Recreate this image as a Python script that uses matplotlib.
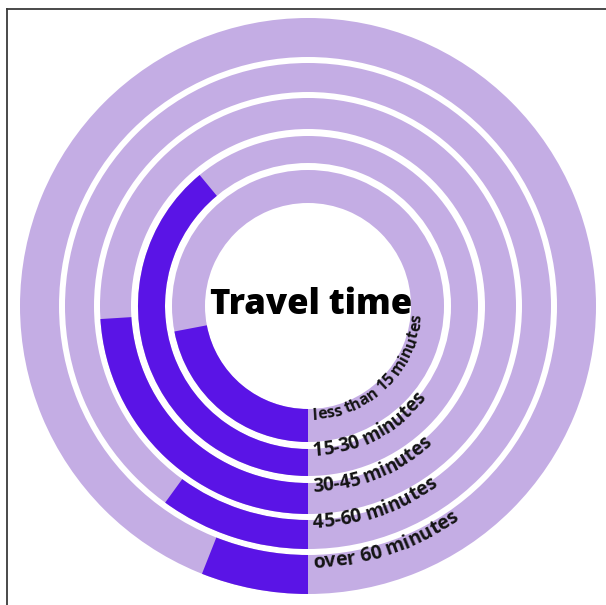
import matplotlib
matplotlib.use('Agg')
import matplotlib.pyplot as plt
import numpy as np
from matplotlib import font_manager
from matplotlib.ft2font import FT2Font
from matplotlib.lines import Line2D

# data: share of people per travel-time band (percent of a full circle)
categories = ['less than 15 minutes', '15-30 minutes', '30-45 minutes',
              '45-60 minutes', 'over 60 minutes']
shares = [22, 39, 24, 10, 6]
title = 'Travel time'

# ring layout (pixels, inner to outer)
ring_in = [103, 143, 177, 214, 249]
ring_out = [136, 170, 208, 243, 288]
label_pt = [11.5, 13.5, 13.5, 13.8, 14]

light = '#c4ade4'
dark = '#5a14e6'

fig = plt.figure(figsize=(6.06, 6.05), dpi=100)
ax = fig.add_axes([18 / 606, 9 / 605, 580 / 606, 580 / 605], projection='polar')
ax.set_theta_zero_location('S')
ax.set_theta_direction(-1)
ax.set_ylim(0, 290)
ax.axis('off')

for i, share in enumerate(shares):
    h = ring_out[i] - ring_in[i]
    # background ring
    ax.bar(np.pi, h, width=2 * np.pi, bottom=ring_in[i], color=light,
           edgecolor='none', linewidth=0)
    # value arc, clockwise from the bottom
    w = share / 100 * 2 * np.pi
    ax.bar(w / 2, h, width=w, bottom=ring_in[i], color=dark,
           edgecolor='none', linewidth=0)


def curved_label(s, r_mid, size_pt, track=0.0):
    fp = font_manager.FontProperties(family='Open Sans', weight='bold', size=size_pt)
    ft = FT2Font(font_manager.findfont(fp))
    ft.set_size(size_pt, 100)
    adv = [ft.load_char(ord(c)).linearHoriAdvance / 65536 + track for c in s]
    px = size_pt * 100 / 72
    rb = r_mid - 0.36 * px
    a0 = 5 / rb
    cum = 0
    for c, a in zip(s, adv):
        ang = a0 + (cum + a / 2) / rb
        cum += a
        if c == ' ':
            continue
        ax.text(-ang, rb, c, rotation=np.degrees(ang), rotation_mode='anchor',
                ha='center', va='baseline', fontproperties=fp, color='#141414')


for i, lab in enumerate(categories):
    curved_label(lab, (ring_in[i] + ring_out[i]) / 2, label_pt[i])

fig.text(311 / 606, 1 - 305 / 605, title, ha='center', va='center',
         fontsize=25, fontweight='heavy', family='Open Sans', color='black')

# frame edges from the original screenshot
fig.add_artist(Line2D([7 / 606, 1], [1 - 9 / 605] * 2, color='#3a3a3a', lw=1.3))
fig.add_artist(Line2D([7 / 606] * 2, [0, 1 - 9 / 605], color='#3a3a3a', lw=1.3))

fig.savefig('out.png', dpi=100, facecolor='white')
